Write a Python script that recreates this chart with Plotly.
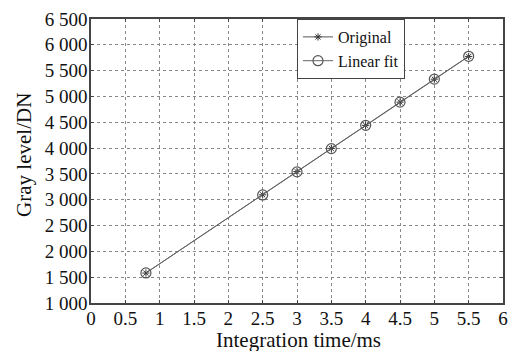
import plotly.graph_objects as go

x_time = [0.8, 2.5, 3.0, 3.5, 4.0, 4.5, 5.0, 5.5]
gray_original = [1580, 3095, 3545, 3995, 4440, 4890, 5335, 5775]
gray_fit = [1582, 3093, 3540, 3990, 4440, 4890, 5335, 5778]

y_ticks = [1000, 1500, 2000, 2500, 3000, 3500, 4000, 4500, 5000, 5500, 6000, 6500]
y_tick_text = ["1 000", "1 500", "2 000", "2 500", "3 000", "3 500", "4 000",
               "4 500", "5 000", "5 500", "6 000", "6 500"]
x_ticks = [0, 0.5, 1, 1.5, 2, 2.5, 3, 3.5, 4, 4.5, 5, 5.5, 6]
x_tick_text = ["0", "0.5", "1", "1.5", "2", "2.5", "3", "3.5", "4", "4.5", "5", "5.5", "6"]

x_title = "Integration time/ms"
y_title = "Gray level/DN"

font = "Liberation Serif, Times New Roman, serif"

fig = go.Figure()
fig.add_trace(go.Scatter(
    x=x_time, y=gray_original, name="Original", mode="lines+markers",
    line=dict(color="#555555", width=1),
    marker=dict(symbol="asterisk-open", size=6, color="#333333", line=dict(width=1, color="#333333")),
))
fig.add_trace(go.Scatter(
    x=x_time, y=gray_fit, name="Linear fit", mode="lines+markers",
    line=dict(color="#666666", width=1),
    marker=dict(symbol="circle-open", size=10, color="#555555", line=dict(width=1.2, color="#555555")),
))

axis_common = dict(
    showline=True, linecolor="#444444", linewidth=1.5, mirror="ticks",
    ticks="inside", ticklen=3, tickcolor="#444444",
    showgrid=True, gridcolor="#888888", griddash="dot", gridwidth=1,
    zeroline=False, automargin=False,
    tickfont=dict(family=font, size=19, color="#111111"),
)

fig.update_layout(
    width=509, height=351,
    margin=dict(l=91, r=6, t=19, b=48),
    paper_bgcolor="white", plot_bgcolor="white",
    font=dict(family=font, color="#111111"),
    showlegend=True,
    legend=dict(
        x=0.5, y=1.0, xanchor="left", yanchor="top",
        bgcolor="white", bordercolor="#444444", borderwidth=1,
        font=dict(family=font, size=16, color="#111111"),
        itemwidth=30, tracegroupgap=0,
    ),
    xaxis=dict(
        range=[0, 6], tickvals=x_ticks, ticktext=x_tick_text,
        ticklabelstandoff=-3,
        **axis_common,
    ),
    yaxis=dict(
        range=[1000, 6500], tickvals=y_ticks, ticktext=y_tick_text,
        ticklabelstandoff=-2,
        **axis_common,
    ),
    annotations=[
        dict(text=x_title, xref="paper", yref="paper", x=0.504, y=-0.130,
             xanchor="center", yanchor="middle", showarrow=False,
             font=dict(family=font, size=21, color="#111111")),
        dict(text=y_title, xref="paper", yref="paper", x=-0.163, y=0.521,
             xanchor="center", yanchor="middle", showarrow=False, textangle=-90,
             font=dict(family=font, size=21, color="#111111")),
    ],
)

fig.write_html("out.html")
